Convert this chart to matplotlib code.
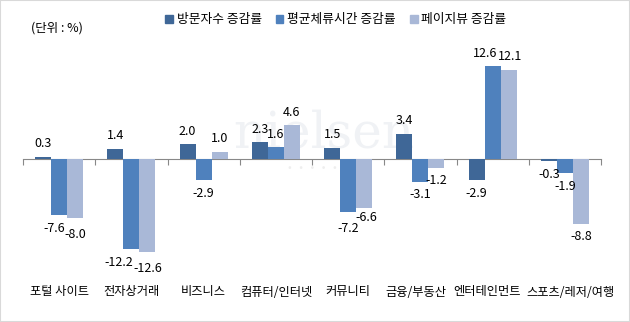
import numpy as np
import matplotlib
matplotlib.use('Agg')
from matplotlib import pyplot as plt
from matplotlib.patches import Rectangle, Patch

plt.rcParams['font.family'] = ['Noto Sans CJK KR', 'DejaVu Sans']

# data
categories = ['포털 사이트', '전자상거래', '비즈니스', '컴퓨터/인터넷', '커뮤니티',
              '금융/부동산', '엔터테인먼트', '스포츠/레저/여행']
series_names = ['방문자수 증감률', '평균체류시간 증감률', '페이지뷰 증감률']
visitors = [0.3, 1.4, 2.0, 2.3, 1.5, 3.4, -2.9, -0.3]
stay_time = [-7.6, -12.2, -2.9, 1.6, -7.2, -3.1, 12.6, -1.9]
page_views = [-8.0, -12.6, 1.0, 4.6, -6.6, -1.2, 12.1, -8.8]
colors = ['#3F6797', '#4F81BD', '#A9B8D7']

# label nudges in pixels (series, category) -> (dx, dy), like Excel does to avoid collisions
nudge = {(1, 0): (-5, 0), (2, 0): (0, -3), (1, 1): (-13, 0), (2, 1): (0, -3),
         (1, 4): (0, -3), (2, 4): (2, 3), (1, 6): (-8, 0), (2, 6): (2, 0)}
cat_nudge = {5: -4, 6: -6, 7: 6}

W, H = 630, 322
fig = plt.figure(figsize=(W / 100, H / 100), dpi=100)
ax = fig.add_axes([23 / W, (H - 265) / H, (601 - 23) / W, 215 / H])

# faint watermark
ax.text(0.52, 0.61, 'nielsen', transform=ax.transAxes, fontsize=36, family='DejaVu Serif',
        color='#F0F2F5', ha='center', va='center', zorder=0)
ax.text(0.52, 0.45, '•   •   •   •   •   •   •', transform=ax.transAxes, fontsize=8,
        color='#EEEEEE', ha='center', va='center', zorder=0)

index = np.arange(len(categories))
bw = 0.221
px = 0.72  # points per pixel at dpi 100
for k, vals in enumerate([visitors, stay_time, page_views]):
    rects = ax.bar(index + (k - 1) * bw, vals, bw, color=colors[k], zorder=2)
    for i, (r, v) in enumerate(zip(rects, vals)):
        x = r.get_x() + r.get_width() / 2
        dx, dy = nudge.get((k, i), (0, 0))
        off = 13 if v >= 0 else -13
        ax.annotate('%.1f' % v, (x, v), xytext=(dx * px, (off + dy) * px),
                    textcoords='offset points', ha='center', va='center', fontsize=9)

ax.set_xlim(-0.5, len(categories) - 0.5)
ax.set_ylim(-14.36, 14.77)
for s in ['top', 'right', 'left']:
    ax.spines[s].set_visible(False)
ax.spines['bottom'].set_position(('data', 0))
ax.spines['bottom'].set_color('#888888')
ax.spines['bottom'].set_zorder(1)
ax.set_yticks([])
ax.set_xticks(np.arange(len(categories) + 1) - 0.5)
ax.set_xticklabels([])
ax.tick_params(axis='x', direction='out', length=4, color='#888888')

tr = matplotlib.transforms.blended_transform_factory(ax.transData, fig.transFigure)
for i, c in enumerate(categories):
    ax.annotate(c, (i, 1 - 292 / H), xycoords=tr, xytext=(cat_nudge.get(i, 0) * px, 0),
                textcoords='offset points', ha='center', va='center', fontsize=8.8)

fig.text(31 / W, 1 - 28 / H, '(단위 : %)', ha='left', va='center', fontsize=9)

handles = [Patch(color=c) for c in colors]
fig.legend(handles, series_names, loc='center left', bbox_to_anchor=(160 / W, 1 - 20 / H),
           ncol=3, frameon=False, fontsize=9.2, handlelength=0.6, handleheight=0.6,
           handletextpad=0.3, columnspacing=1.1, borderaxespad=0)

fig.patches.append(Rectangle((0, 0), 1, 1, transform=fig.transFigure, fill=False,
                             edgecolor='#D9D9D9', linewidth=1.5))

plt.savefig('out.png', dpi=100)
